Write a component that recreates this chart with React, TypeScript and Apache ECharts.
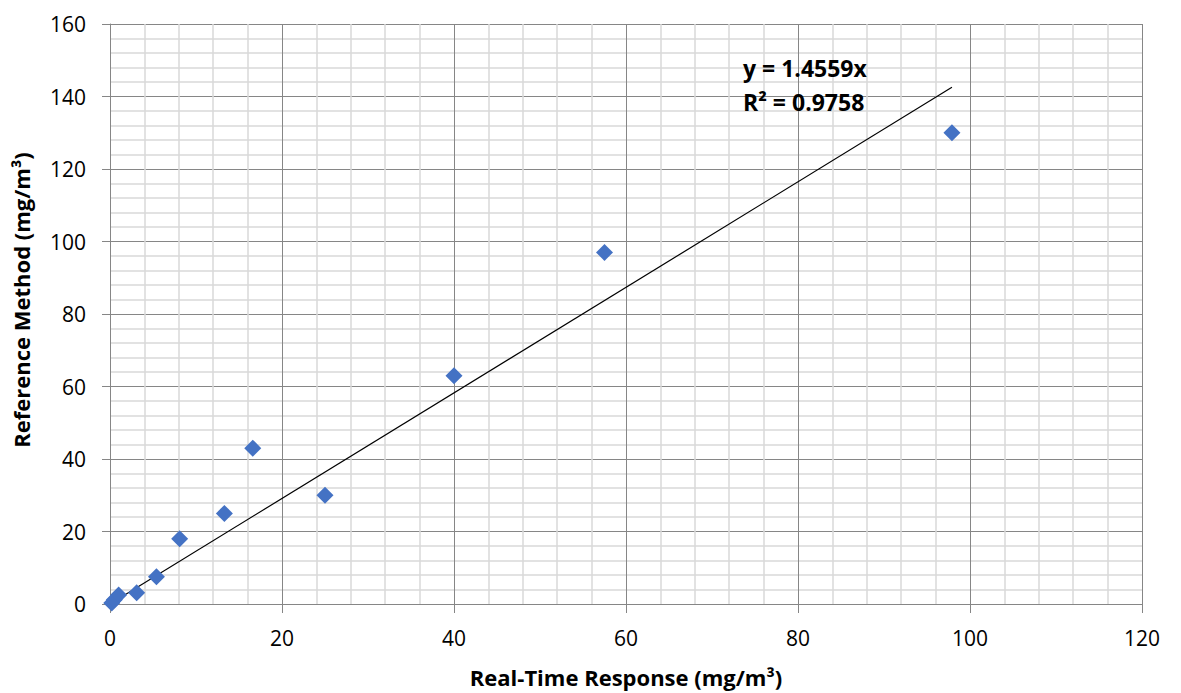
import React, { useEffect, useRef } from "react";
import * as echarts from "echarts";

const realTime = [0.2, 0.5, 1.0, 3.1, 5.4, 8.1, 13.3, 16.6, 25.0, 40.0, 57.5, 97.9];
const reference = [0.3, 1.2, 2.5, 3.1, 7.5, 18.0, 25.0, 43.0, 30.0, 63.0, 97.0, 130.0];
const slope = 1.4559;
const trendX = [0, 97.9];
const equationLabel = "y = 1.4559x";
const r2Label = "R² = 0.9758";
const xTitle = "Real-Time Response (mg/m³)";
const yTitle = "Reference Method (mg/m³)";

const FONT = "'Open Sans', 'Noto Sans', sans-serif";

export default function App() {
  const ref = useRef<HTMLDivElement>(null);
  useEffect(() => {
    if (!ref.current) return;
    const chart = echarts.init(ref.current, null, { renderer: "svg" });
    const points = realTime.map((x, i) => [x, reference[i]]);
    const trend = trendX.map((x) => [x, slope * x]);
    chart.setOption({
      animation: false,
      backgroundColor: "#ffffff",
      grid: { left: 110, top: 24, right: 39, bottom: 89 },
      xAxis: {
        type: "value",
        min: 0,
        max: 120,
        interval: 20,
        name: xTitle,
        nameLocation: "middle",
        nameGap: 62,
        nameTextStyle: { fontFamily: FONT, fontWeight: "bold", fontSize: 22, color: "#000" },
        axisLine: { show: true, lineStyle: { color: "#868686", width: 1 } },
        axisTick: { show: true, length: 9, lineStyle: { color: "#868686" } },
        axisLabel: { fontFamily: FONT, fontSize: 21, color: "#000", margin: 23 },
        splitLine: { show: true, lineStyle: { color: "#868686", width: 1 } },
        minorTick: { show: false, splitNumber: 5 },
        minorSplitLine: { show: true, lineStyle: { color: "#d9d9d9", width: 1.5 } },
      },
      yAxis: {
        type: "value",
        min: 0,
        max: 160,
        interval: 20,
        axisLine: { show: true, lineStyle: { color: "#868686", width: 1 } },
        axisTick: { show: true, length: 8, lineStyle: { color: "#868686" } },
        axisLabel: { fontFamily: FONT, fontSize: 21, color: "#000", margin: 24 },
        splitLine: { show: true, lineStyle: { color: "#868686", width: 1 } },
        minorTick: { show: false, splitNumber: 5 },
        minorSplitLine: { show: true, lineStyle: { color: "#d9d9d9", width: 1.5 } },
      },
      series: [
        {
          type: "line",
          data: trend,
          showSymbol: false,
          symbol: "none",
          lineStyle: { color: "#000", width: 1.2 },
          z: 3,
          silent: true,
        },
        {
          type: "scatter",
          data: points,
          symbol: "diamond",
          symbolSize: 17,
          itemStyle: { color: "#4472C4", opacity: 1 },
          z: 4,
        },
      ],
      graphic: [
        {
          type: "text",
          x: 21,
          y: 300,
          rotation: Math.PI / 2,
          style: {
            text: yTitle,
            fontFamily: FONT,
            fontWeight: "bold",
            fontSize: 22,
            fill: "#000",
            align: "center",
            verticalAlign: "middle",
          },
        },
        {
          type: "text",
          left: 743,
          top: 56,
          z: 10,
          style: { text: equationLabel, fontFamily: FONT, fontWeight: "bold", fontSize: 23, fill: "#000" },
        },
        {
          type: "text",
          left: 743,
          top: 90,
          z: 10,
          style: { text: r2Label, fontFamily: FONT, fontWeight: "bold", fontSize: 23, fill: "#000" },
        },
      ],
    });
    return () => chart.dispose();
  }, []);
  return <div ref={ref} style={{ width: 1181, height: 693, position: "absolute", left: 0, top: 0 }} />;
}
